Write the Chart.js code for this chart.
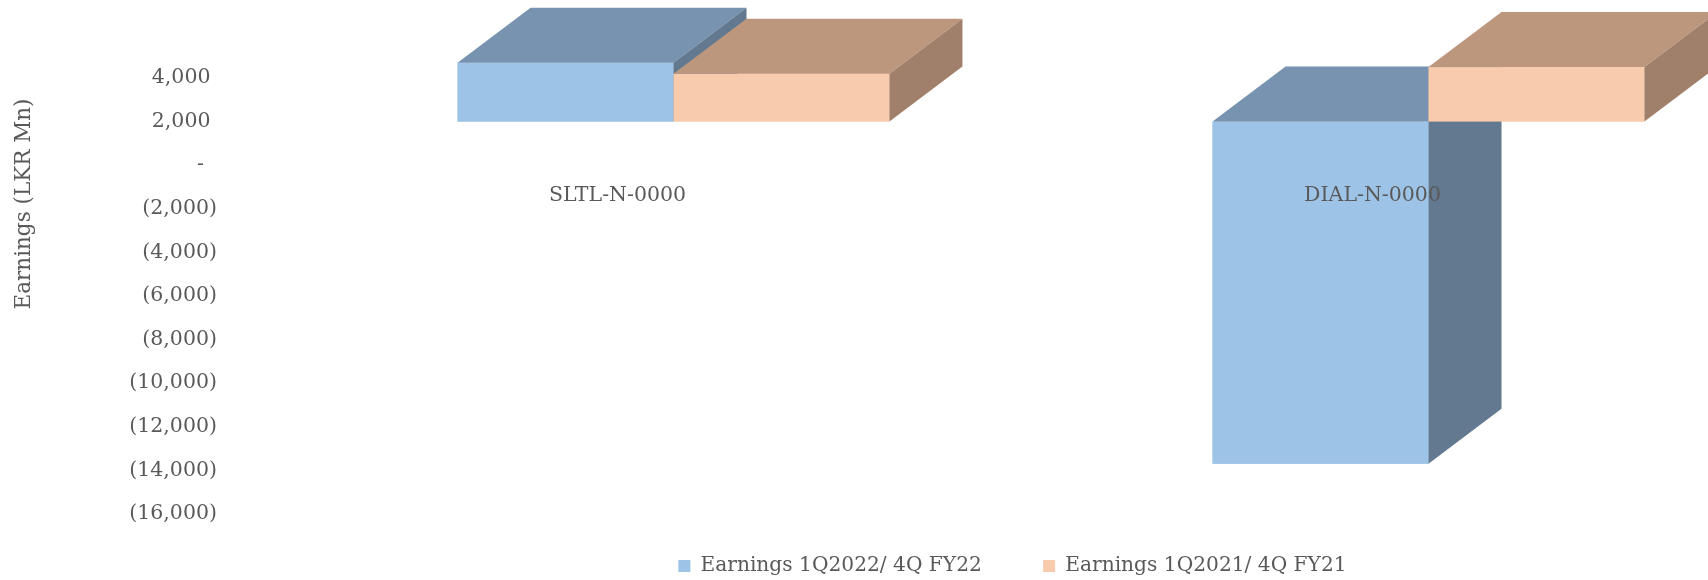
<!DOCTYPE html>
<html>
<head>
<meta charset="utf-8">
<script src="https://cdn.jsdelivr.net/npm/chart.js@4/dist/chart.umd.min.js"></script>
<style>
  html, body { margin: 0; padding: 0; background: #fff; overflow: hidden; }
  #wrap { position: relative; width: 2025px; height: 580px; }
</style>
</head>
<body>
<div id="wrap"><canvas id="chart"></canvas></div>
<script>
const companies = ['SLTL-N-0000', 'DIAL-N-0000']
const earningsCurrent = [4700, -13700]
const earningsPrevious = [4200, 4500]
const seriesNames = ['Earnings 1Q2022/ 4Q FY22', 'Earnings 1Q2021/ 4Q FY21']
const yTicks = { min: -16000, max: 4000, step: 2000 }
const barBase = 2000

// face colours: front, top, side
const shades = [
  { front: '#9dc3e6', top: '#7793b0', side: '#63798f' },
  { front: '#f8cbad', top: '#bd967e', side: '#a0806a' }
]
const depth = { dx: 73, dy: -55 }
const FONT = "'DejaVu Serif', serif"
const GREY = '#595959'

Chart.defaults.font.family = FONT
Chart.defaults.color = GREY

const fmt = (v) => {
  if (v === 0) return '-  '
  const s = Math.abs(v).toLocaleString('en-US')
  return v < 0 ? '(' + s + ')' : s + ' '
}

// draws front, top and side of every bar so later bars overlap earlier ones
const bars3d = {
  id: 'bars3d',
  afterDatasetsDraw(chart) {
    const ctx = chart.ctx
    ctx.save()
    chart.data.labels.forEach((_, j) => {
      chart.data.datasets.forEach((ds, i) => {
        const bar = chart.getDatasetMeta(i).data[j]
        const { x, y, base, width } = bar.getProps(['x', 'y', 'base', 'width'], true)
        const l = x - width / 2, r = x + width / 2
        const t = Math.min(y, base), b = Math.max(y, base)
        const c = shades[i]
        ctx.fillStyle = c.front
        ctx.fillRect(l, t, width, b - t)
        ctx.fillStyle = c.top
        ctx.beginPath()
        ctx.moveTo(l, t); ctx.lineTo(l + depth.dx, t + depth.dy)
        ctx.lineTo(r + depth.dx, t + depth.dy); ctx.lineTo(r, t)
        ctx.closePath(); ctx.fill()
        ctx.fillStyle = c.side
        ctx.beginPath()
        ctx.moveTo(r, t); ctx.lineTo(r + depth.dx, t + depth.dy)
        ctx.lineTo(r + depth.dx, b + depth.dy); ctx.lineTo(r, b)
        ctx.closePath(); ctx.fill()
      })
    })
    ctx.restore()
  },
  afterDraw(chart) {
    const ctx = chart.ctx
    ctx.save()
    ctx.translate(24, 204)
    ctx.rotate(-Math.PI / 2)
    ctx.font = '21.5px ' + FONT
    ctx.fillStyle = GREY
    ctx.textAlign = 'center'
    ctx.textBaseline = 'middle'
    ctx.fillText('Earnings (LKR Mn)', 0, 0)
    ctx.restore()
  }
}

new Chart(document.getElementById('chart'), {
  type: 'bar',
  data: {
    labels: companies,
    datasets: [
      { label: seriesNames[0], data: earningsCurrent, backgroundColor: shades[0].front },
      { label: seriesNames[1], data: earningsPrevious, backgroundColor: shades[1].front }
    ].map(d => ({ ...d, base: barBase, borderWidth: 0, clip: false,
      categoryPercentage: 0.572, barPercentage: 1 }))
  },
  options: {
    responsive: true,
    maintainAspectRatio: false,
    animation: false,
    layout: { padding: { left: 0, right: 0, top: 78, bottom: -6 } },
    plugins: {
      tooltip: { enabled: false },
      legend: {
        position: 'bottom',
        labels: {
          boxWidth: 12,
          boxHeight: 12,
          padding: 42,
          color: GREY,
          font: { size: 20.2 },
          generateLabels: (chart) => Chart.defaults.plugins.legend.labels.generateLabels(chart)
            .map((item, i, arr) => ({ ...item, text: i < arr.length - 1 ? item.text + '   ' : item.text }))
        }
      }
    },
    scales: {
      x: {
        position: { y: 0 },
        grid: { display: false, drawTicks: false },
        border: { display: false },
        ticks: { z: 1, color: GREY, font: { size: 20.5 }, padding: 18.5, labelOffset: -56, maxRotation: 0 }
      },
      y: {
        min: yTicks.min,
        max: yTicks.max,
        grid: { display: false, drawTicks: false },
        border: { display: false },
        // wide gap between labels and plot, without the tick padding growing the plot margins
        afterFit: (s) => { s.width = 296; s.paddingTop = 0; s.paddingBottom = 0 },
        ticks: {
          stepSize: yTicks.step,
          color: GREY,
          font: { size: 20.5 },
          padding: 79,
          callback: (v) => fmt(v)
        }
      },
      // empty right-hand axis: keeps the plot edge where the bars need it
      yRight: {
        position: 'right',
        grid: { display: false, drawTicks: false },
        border: { display: false },
        ticks: { display: false },
        afterFit: (s) => { s.width = 219 }
      }
    }
  },
  plugins: [bars3d]
})
</script>
</body>
</html>
